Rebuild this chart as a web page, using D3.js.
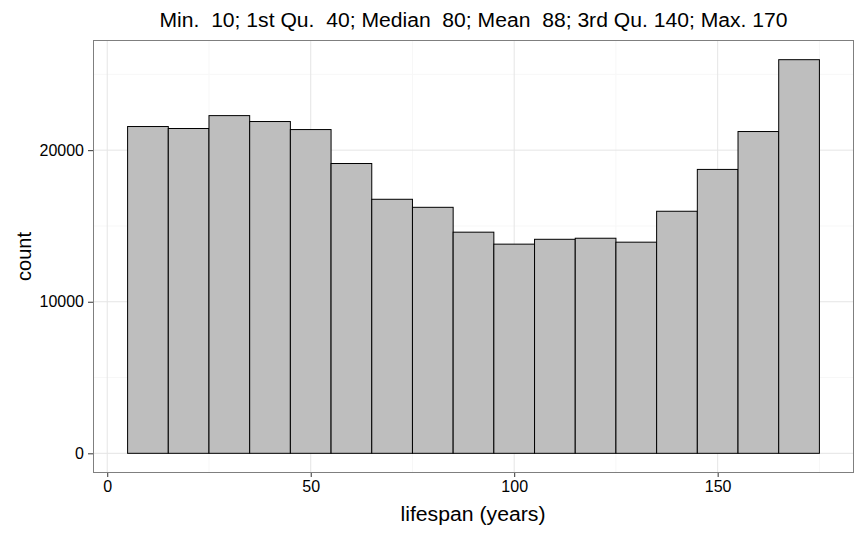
<!DOCTYPE html>
<html><head><meta charset="utf-8">
<script src="https://cdnjs.cloudflare.com/ajax/libs/d3/7.8.5/d3.min.js"></script>
<style>body{margin:0;background:#fff}svg{font-family:"Liberation Sans",Arial,sans-serif}</style>
</head><body><svg id="c" width="865" height="536"></svg>
<script>
const binCenters = [10,20,30,40,50,60,70,80,90,100,110,120,130,140,150,160,170];
const counts = [21560,21430,22280,21890,21360,19120,16760,16230,14590,13800,14120,14190,13930,15970,18730,21230,25970];
const binWidth = 10;
const xTicks = [0,50,100,150];
const yTicks = [0,10000,20000];
const xMinor = [25,75,125,175];
const yMinor = [5000,15000,25000];
const titleText = "Min.  10; 1st Qu.  40; Median  80; Mean  88; 3rd Qu. 140; Max. 170";
const xLabel = "lifespan (years)";
const yLabel = "count";

const svg = d3.select("#c");
const L = 93, R = 854, T = 40, B = 473;
const xmin = binCenters[0]-binWidth/2, xmax = binCenters[binCenters.length-1]+binWidth/2;
const xr = xmax - xmin;
const x = d3.scaleLinear().domain([xmin-0.05*xr, xmax+0.05*xr]).range([L,R]);
const ymax = d3.max(counts);
const y = d3.scaleLinear().domain([-0.05*ymax, 1.05*ymax]).range([B,T]);

svg.append("rect").attr("x",L).attr("y",T).attr("width",R-L).attr("height",B-T).attr("fill","#fff");
const g = svg.append("g");
g.selectAll(".xm").data(xMinor).join("line").attr("x1",d=>x(d)).attr("x2",d=>x(d)).attr("y1",T).attr("y2",B).attr("stroke","#f7f7f7").attr("stroke-width",1);
g.selectAll(".ym").data(yMinor).join("line").attr("y1",d=>y(d)).attr("y2",d=>y(d)).attr("x1",L).attr("x2",R).attr("stroke","#f7f7f7").attr("stroke-width",1);
g.selectAll(".xM").data(xTicks).join("line").attr("x1",d=>x(d)).attr("x2",d=>x(d)).attr("y1",T).attr("y2",B).attr("stroke","#e5e5e5").attr("stroke-width",1);
g.selectAll(".yM").data(yTicks).join("line").attr("y1",d=>y(d)).attr("y2",d=>y(d)).attr("x1",L).attr("x2",R).attr("stroke","#e5e5e5").attr("stroke-width",1);

svg.append("g").selectAll("rect").data(binCenters).join("rect")
  .attr("x",d=>x(d-binWidth/2)).attr("width",d=>x(d+binWidth/2)-x(d-binWidth/2))
  .attr("y",(d,i)=>y(counts[i])).attr("height",(d,i)=>y(0)-y(counts[i]))
  .attr("fill","#bebebe").attr("stroke","#000").attr("stroke-width",1);

svg.append("rect").attr("x",L+0.5).attr("y",T+0.5).attr("width",R-L-1).attr("height",B-T-1).attr("fill","none").attr("stroke","#7f7f7f").attr("stroke-width",1);

const xAxis = svg.append("g").attr("transform",`translate(0,${B})`).call(d3.axisBottom(x).tickValues(xTicks).tickSize(4).tickPadding(4));
const yAxis = svg.append("g").attr("transform",`translate(${L},0)`).call(d3.axisLeft(y).tickValues(yTicks).tickSize(5).tickPadding(4).tickFormat(d3.format("d")));
[xAxis,yAxis].forEach(a=>{a.select(".domain").remove();a.selectAll(".tick line").attr("stroke","#333");a.selectAll("text").attr("fill","#000").style("font-size","16px").style("font-family","Liberation Sans, Arial, sans-serif");});

svg.append("text").attr("x",(L+R)/2).attr("y",27).attr("text-anchor","middle").style("font-size","20px").style("white-space","pre")
  .attr("textLength",628).attr("lengthAdjust","spacingAndGlyphs").text(titleText);
svg.append("text").attr("x",473).attr("y",521).attr("text-anchor","middle").style("font-size","20px")
  .attr("textLength",145).attr("lengthAdjust","spacingAndGlyphs").text(xLabel);
svg.append("text").attr("transform",`translate(31,${(T+B)/2}) rotate(-90)`).attr("text-anchor","middle").style("font-size","20px").text(yLabel);
</script></body></html>
